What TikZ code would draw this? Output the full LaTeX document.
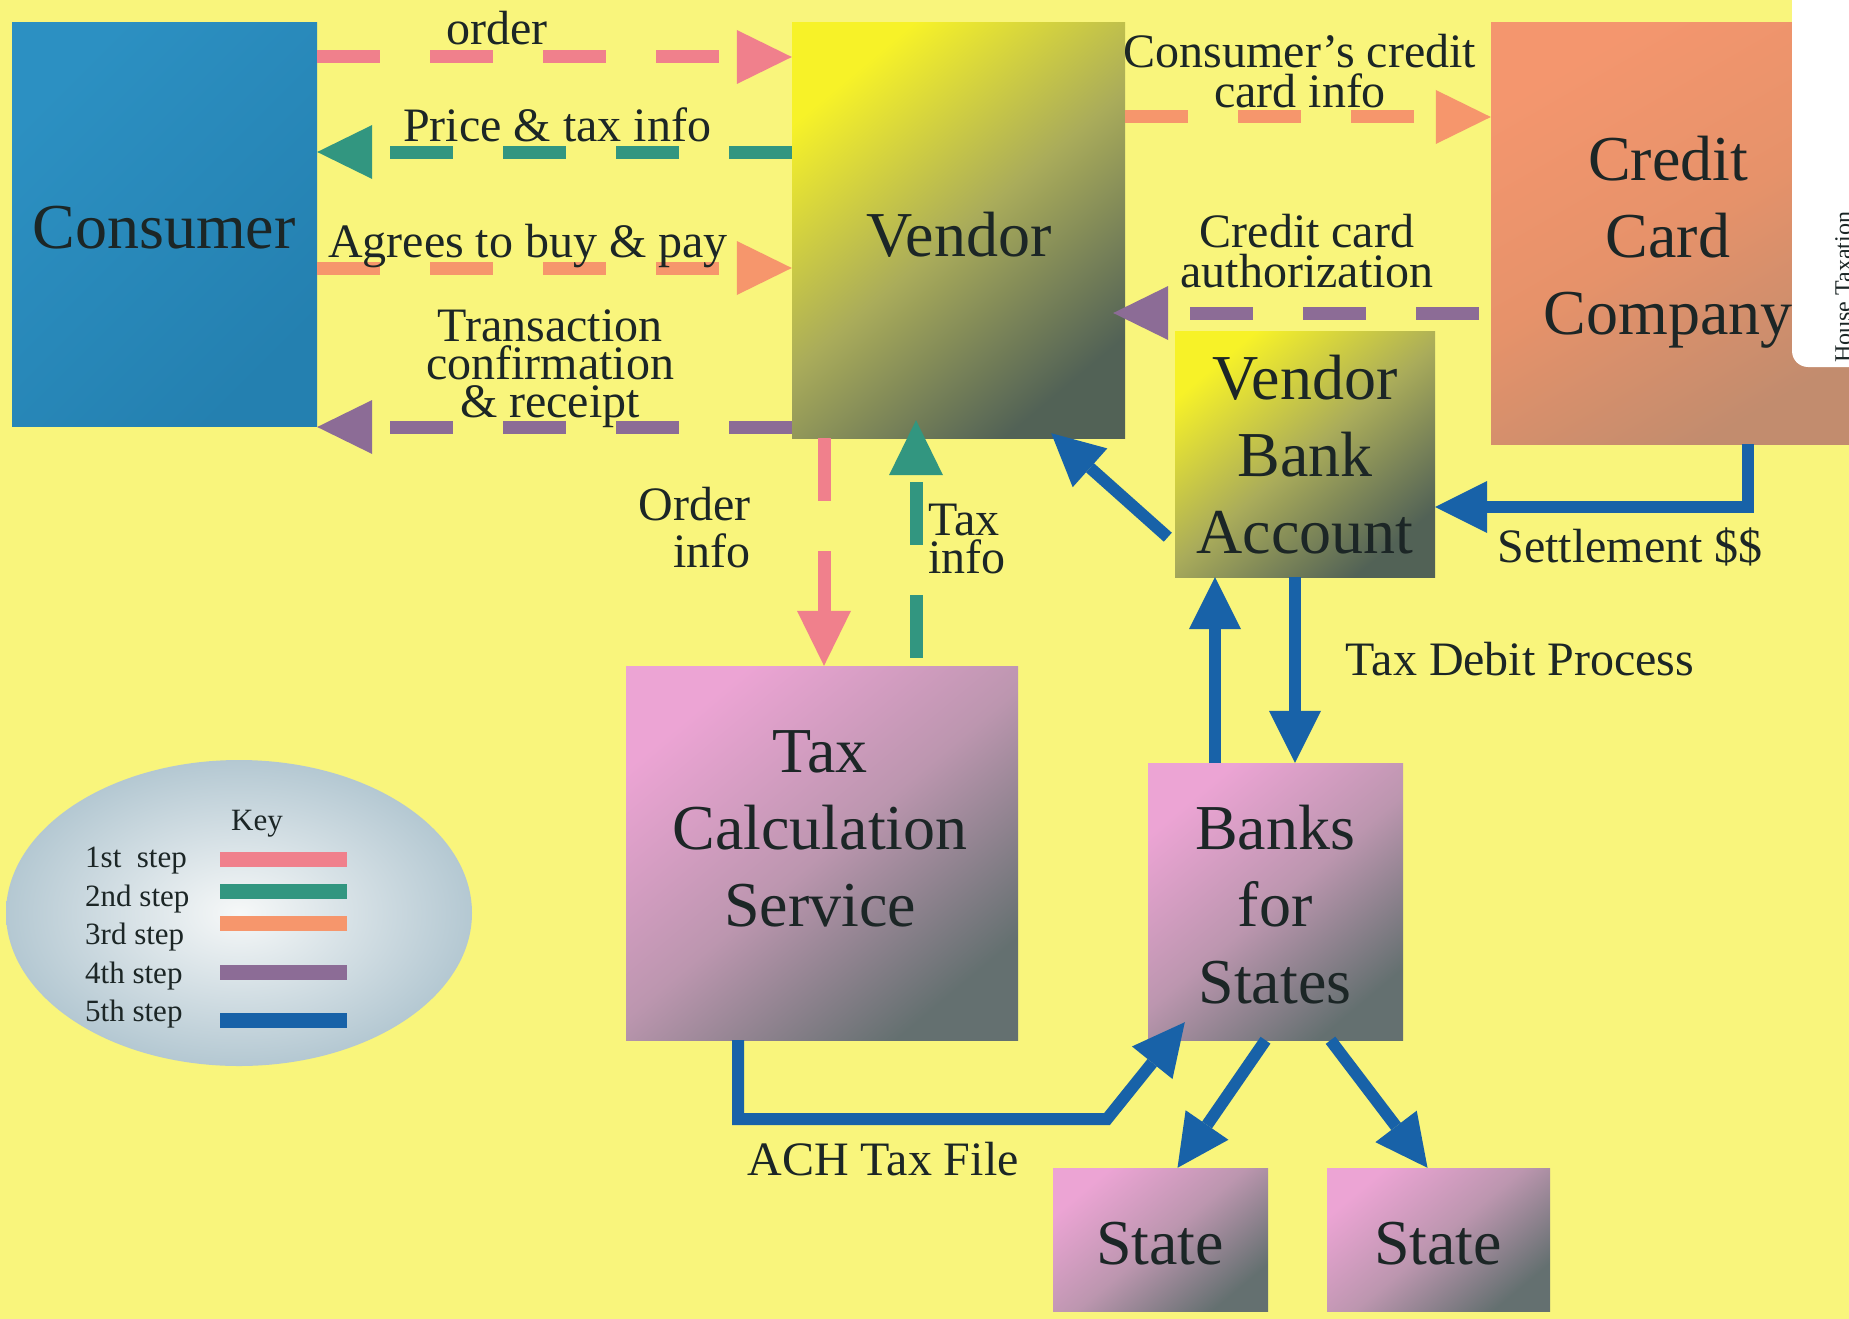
\documentclass[tikz,border=0pt]{standalone}
\usepackage{fontspec}
\setmainfont{Liberation Serif}
\usetikzlibrary{arrows.meta,shapes.geometric}
\definecolor{bg}{RGB}{249,245,124}
\definecolor{stepA}{RGB}{240,128,140}
\definecolor{stepB}{RGB}{50,150,128}
\definecolor{stepC}{RGB}{246,150,108}
\definecolor{stepD}{RGB}{140,108,150}
\definecolor{stepE}{RGB}{24,98,168}
\definecolor{txt}{RGB}{28,38,38}
\definecolor{consA}{RGB}{44,144,194}
\definecolor{consB}{RGB}{36,128,176}
\definecolor{vendA}{RGB}{247,242,40}
\definecolor{vendM}{RGB}{170,172,90}
\definecolor{vendB}{RGB}{82,98,86}
\definecolor{cccA}{RGB}{244,150,110}
\definecolor{cccM}{RGB}{230,146,106}
\definecolor{cccB}{RGB}{194,140,110}
\definecolor{pinkA}{RGB}{236,164,212}
\definecolor{pinkM}{RGB}{188,150,175}
\definecolor{pinkB}{RGB}{100,112,112}
\definecolor{keyIn}{RGB}{246,248,248}
\definecolor{keyOut}{RGB}{180,200,210}
\begin{document}
\begin{tikzpicture}[x=1pt,y=-1pt,
  box/.style={rectangle, inner sep=0pt, draw=none},
  yellowbox/.style={box, top color=vendA, bottom color=vendB, middle color=vendM, shading angle=40},
  pinkbox/.style={box, top color=pinkA, bottom color=pinkB, middle color=pinkM, shading angle=40},
  big/.style={text=txt, font=\fontsize{64}{77}\selectfont, align=center, anchor=base, inner sep=0pt},
  lbl/.style={text=txt, font=\fontsize{48}{40}\selectfont, align=center, anchor=base, inner sep=0pt},
  keytext/.style={text=txt, font=\fontsize{31}{37}\selectfont, anchor=base west, inner sep=0pt},
  keybar/.style={box, minimum width=127pt, minimum height=15pt},
  dashline/.style={line width=13pt, dash pattern=on 63pt off 50pt, -{Triangle[length=55pt,width=54pt,line width=0pt]}},
  solidline/.style={stepE, line width=12pt, -{Triangle[length=52pt,width=52pt,line width=0pt]}},
]
\useasboundingbox (0,0) rectangle (1849,1319);
\fill[bg] (0,0) rectangle (1849,1319);

% boxes
\node[box, top color=consA, bottom color=consB, shading angle=45, minimum width=305pt, minimum height=403pt] (consumer) at (164.5,224.5) {};
\node[yellowbox, minimum width=333pt, minimum height=415pt] (vendor) at (958.5,230.5) {};
\node[box, top color=cccA, bottom color=cccB, middle color=cccM, shading angle=30, minimum width=358pt, minimum height=421pt] (ccc) at (1670,233.5) {};
\node[yellowbox, minimum width=260pt, minimum height=246pt] (vba) at (1305,454) {};
\node[pinkbox, minimum width=392pt, minimum height=374pt] (tcs) at (822,853) {};
\node[pinkbox, minimum width=255pt, minimum height=277pt] (banks) at (1275.5,901.5) {};
\node[pinkbox, minimum width=215pt, minimum height=143pt] (stateA) at (1160.5,1239.5) {};
\node[pinkbox, minimum width=223pt, minimum height=143pt] (stateB) at (1438.5,1239.5) {};

% box texts (anchor = baseline of last line)
\node[big] (consumerT) at (164,248) {Consumer};
\node[big] (vendorT) at (959,256) {Vendor};
\node[big] (cccT) at (1668,334) {Credit\\Card\\Company};
\node[big] (vbaT) at (1305,553) {Vendor\\Bank\\Account};
\node[big] (tcsT) at (820,926) {Tax\\Calculation\\Service};
\node[big] (banksT) at (1275,1003) {Banks\\for\\States};
\node[big] (stateAT) at (1160,1264) {State};
\node[big] (stateBT) at (1438,1264) {State};

% dashed connectors
\draw[dashline, stepA] (consumer.east |- 0,57) -- (vendor.west |- 0,57);
\draw[dashline, stepB] (vendor.west |- 0,152) -- (consumer.east |- 0,152);
\draw[dashline, stepC] (consumer.east |- 0,268) -- (vendor.west |- 0,268);
\draw[dashline, stepD] (vendor.west |- 0,427) -- (consumer.east |- 0,427);
\draw[dashline, stepC] (vendor.east |- 0,117) -- (ccc.west |- 0,117);
\draw[dashline, stepD, shorten <=12pt, shorten >=-12pt] (ccc.west |- 0,313) -- (vendor.east |- 0,313);
\draw[dashline, stepA] (vendor.south -| 824,0) -- (tcs.north -| 824,0);
\draw[dashline, stepB, shorten <=8pt, shorten >=-18pt] (tcs.north -| 916,0) -- (vendor.south -| 916,0);

% edge labels (anchor = baseline of last line)
\node[lbl] (orderL) at (497,45) {order};
\node[lbl] (priceL) at (557,142) {Price \& tax info};
\node[lbl] (agreesL) at (528,257) {Agrees to buy \& pay};
\node[lbl, font=\fontsize{48}{38}\selectfont] (transL) at (550,417) {Transaction\\confirmation\\\& receipt};
\node[lbl] (credinfoL) at (1300,108) {Consumer’s credit\\card info};
\node[lbl] (authL) at (1307,287) {Credit card\\authorization};
\node[lbl, anchor=base east, align=right, font=\fontsize{48}{47}\selectfont] (orderinfoL) at (751,567) {Order\\info};
\node[lbl, anchor=base west, align=left, font=\fontsize{48}{38}\selectfont] (taxinfoL) at (928,573) {Tax\\info};
\node[lbl] (settleL) at (1630,562) {Settlement \$\$};
\node[lbl] (taxdebitL) at (1520,675) {Tax Debit Process};
\node[lbl] (achL) at (883,1175) {ACH Tax File};

% solid blue connectors
\draw[solidline] ([shift={(-7,-40)}]vba.south west) -- ([shift={(-74,-5)}]vendor.south east);
\draw[solidline] (ccc.south -| 1748,0) |- (vba.east |- 0,507);
\draw[solidline] (banks.north -| 1215,0) -- (vba.south -| 1215,0);
\draw[solidline] (vba.south -| 1295,0) -- (banks.north -| 1295,0);
\coordinate (achbend) at (1107,1119);
\draw[solidline] (tcs.south -| 738,0) |- (achbend) -- ([shift={(37,-18)}]banks.south west);
\draw[solidline] ([xshift=-10pt]banks.south) -- ([xshift=17pt]stateA.north);
\draw[solidline] ([xshift=55pt]banks.south) -- ([xshift=-11pt]stateB.north);

% key
\node[ellipse, inner color=keyIn, outer color=keyOut, minimum width=466pt, minimum height=306pt, inner sep=0pt] (keyoval) at (239,913) {};
\node[keytext, anchor=base] (keyT) at (257,830) {Key};
\node[keytext] (k1) at (85,867) {1st\enspace step};
\node[keytext] (k2) at (85,906) {2nd step};
\node[keytext] (k3) at (85,944) {3rd step};
\node[keytext] (k4) at (85,983) {4th step};
\node[keytext] (k5) at (85,1021) {5th step};
\node[keybar, fill=stepA] (b1) at (283.5,859) {};
\node[keybar, fill=stepB] (b2) at (283.5,891) {};
\node[keybar, fill=stepC] (b3) at (283.5,923) {};
\node[keybar, fill=stepD] (b4) at (283.5,972) {};
\node[keybar, fill=stepE] (b5) at (283.5,1020) {};

% side tab
\fill[white, rounded corners=16pt] (1880,-40) -- (1792,-40) -- (1792,367) -- (1880,367) -- cycle;
\node[rotate=90, anchor=base west, font=\fontsize{24}{28}\selectfont, text=txt, inner sep=0pt] (tabT) at (1851,363) {House Taxation};
\end{tikzpicture}
\end{document}
